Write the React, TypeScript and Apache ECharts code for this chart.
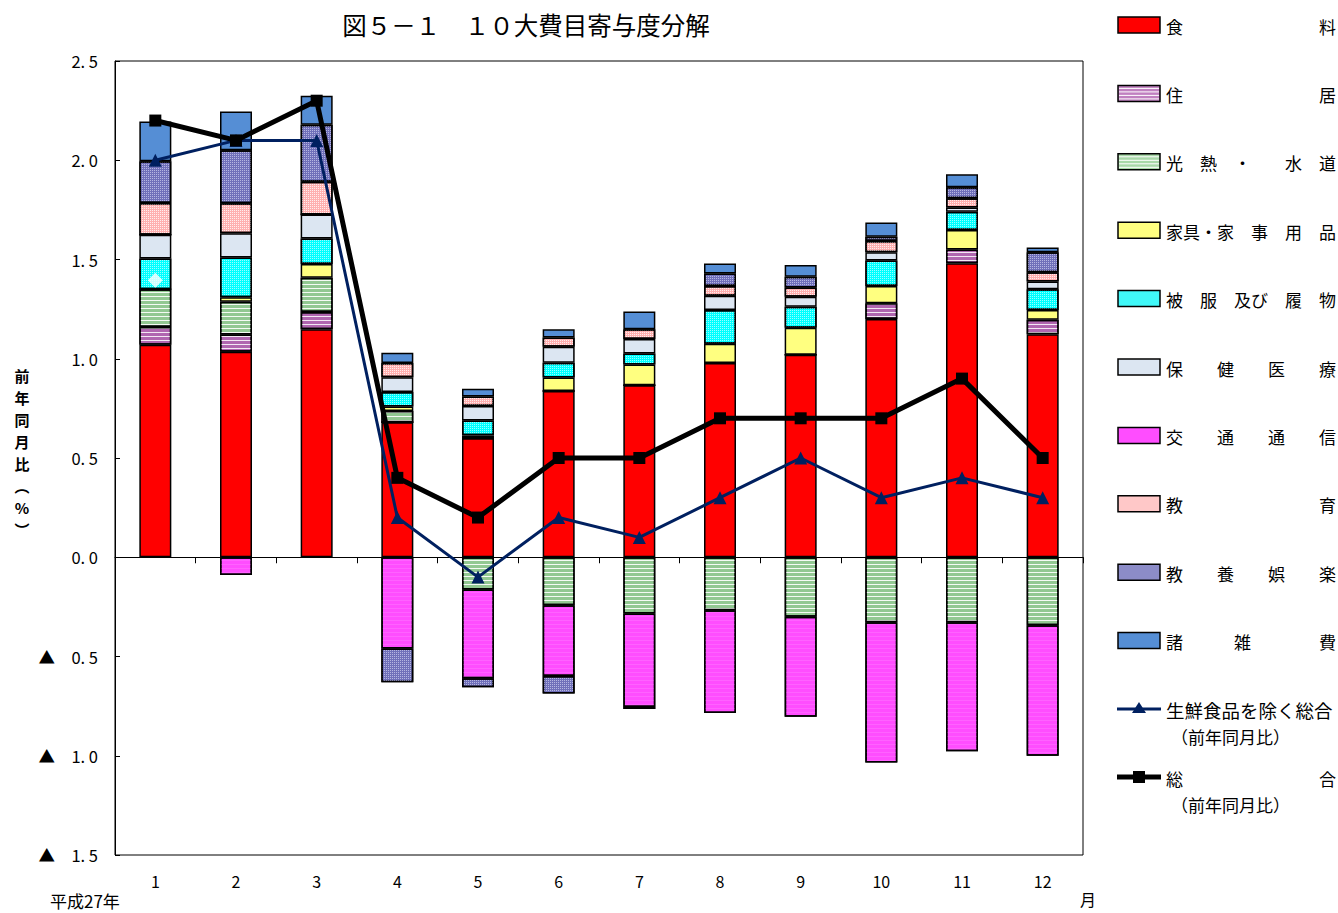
import React, { useEffect, useRef } from "react";
import * as echarts from "echarts";

// ---------- data ----------
const months = ["1", "2", "3", "4", "5", "6", "7", "8", "9", "10", "11", "12"];
const categoryNames = ["食料", "住居", "光熱・水道", "家具・家事用品", "被服及び履物", "保健医療", "交通通信", "教育", "教養娯楽", "諸雑費"];
const legendTexts = [
  "食　　　　　　　　料",
  "住　　　　　　　　居",
  "光　熱　・　　水　道",
  "家具・家　事　用　品",
  "被　服　及び　履　物",
  "保　　健　　医　　療",
  "交　　通　　通　　信",
  "教　　　　　　　　育",
  "教　　養　　娯　　楽",
  "諸　　　雑　　　　費",
];
const lineNames = ["生鮮食品を除く総合", "総合"];
const lineLegendTexts = ["生鮮食品を除く総合", "総　　　　　　　　合"];
const lineSubText = "（前年同月比）";

const food = [1.07, 1.035, 1.148, 0.68, 0.6, 0.837, 0.867, 0.979, 1.02, 1.2, 1.481, 1.124];
const housing = [0.09, 0.087, 0.088, 0, 0, 0, 0, 0, 0, 0.079, 0.069, 0.073];
const utility = [0.19, 0.165, 0.172, 0.057, -0.163, -0.242, -0.284, -0.267, -0.3, -0.328, -0.328, -0.343];
const furniture = [0, 0.023, 0.069, 0.023, 0.014, 0.069, 0.104, 0.096, 0.136, 0.088, 0.098, 0.049];
const clothing = [0.155, 0.2, 0.129, 0.073, 0.075, 0.074, 0.056, 0.17, 0.106, 0.128, 0.092, 0.104];
const health = [0.12, 0.122, 0.121, 0.074, 0.073, 0.08, 0.073, 0.072, 0.05, 0.041, 0.022, 0.039];
const transport = [0, -0.09, 0, -0.46, -0.447, -0.356, -0.47, -0.518, -0.504, -0.706, -0.649, -0.657];
const education = [0.16, 0.152, 0.165, 0.071, 0.048, 0.047, 0.048, 0.049, 0.047, 0.057, 0.047, 0.047];
const culture = [0.21, 0.266, 0.287, -0.17, -0.045, -0.089, -0.01, 0.064, 0.054, 0.022, 0.055, 0.1];
const misc = [0.2, 0.196, 0.146, 0.052, 0.039, 0.041, 0.09, 0.05, 0.059, 0.072, 0.065, 0.024];
const barValues = [food, housing, utility, furniture, clothing, health, transport, education, culture, misc];

const coreIndex = [2.0, 2.1, 2.1, 0.2, -0.1, 0.2, 0.1, 0.3, 0.5, 0.3, 0.4, 0.3];
const totalIndex = [2.2, 2.1, 2.3, 0.4, 0.2, 0.5, 0.5, 0.7, 0.7, 0.7, 0.9, 0.5];
const markerPoint = [[0, 1.396]];

const titleText = "図５－１　１０大費目寄与度分解";
const yAxisName = "前年同月比（%）";
const yearText = "平成27年";
const monthUnit = "月";

// ---------- styles ----------
const FONT = '"Noto Sans CJK JP", "Noto Sans", sans-serif';
const barBase = ["#FF0000", "#B066B0", "#92C892", "#FFFF80", "#00FFFF", "#DCE6F2", "#FF4DFF", "#FFB0B0", "#7070BA", "#558ED5"];
const swatchColors = ["#FF0000", "#C080C0", "#A8D8A8", "#FFFF80", "#40F8F8", "#DCE6F2", "#FF4DFF", "#FFC8C8", "#8C8CC8", "#558ED5"];
const stripes = (c: string) => ({ symbol: "rect", symbolSize: 1, dashArrayX: [1, 0], dashArrayY: [1, 2.2], color: c, rotation: 0 });
const dots = (c: string) => ({ symbol: "rect", symbolSize: 1, dashArrayX: [1, 1], dashArrayY: [1, 1], color: c, rotation: 0 });
const decals: any[] = [
  null,
  stripes("rgba(255,255,255,0.85)"),
  stripes("rgba(255,255,255,0.9)"),
  null,
  dots("rgba(255,255,255,0.6)"),
  null,
  stripes("rgba(255,120,255,0.5)"),
  dots("rgba(255,255,255,0.8)"),
  dots("rgba(200,200,235,0.8)"),
  null,
];

const fmt = (v: number) => {
  const s = Math.abs(v).toFixed(1).replace(".", ". ");
  return v < -1e-9 ? "▲　" + s : s;
};

export default function App() {
  const ref = useRef<HTMLDivElement>(null);
  useEffect(() => {
    document.body.style.margin = "0";
    if (!ref.current) return;
    const chart = echarts.init(ref.current, undefined, { renderer: "svg" });

    const barSeries = categoryNames.map((name, i) => ({
      name,
      type: "bar",
      stack: "total",
      barWidth: 32,
      xAxisIndex: 0,
      data: barValues[i],
      itemStyle: {
        color: barBase[i],
        borderColor: "#000",
        borderWidth: 1.5,
        ...(decals[i] ? { decal: decals[i] } : {}),
      },
      z: 2,
    }));

    const graphics: any[] = [];
    graphics.push({
      type: "text",
      x: 526,
      y: 24,
      style: { text: titleText, font: `24.5px ${FONT}`, fill: "#000", align: "center", verticalAlign: "middle" },
    });
    const nameChars = yAxisName.split("").map((c) => (c === "（" ? "︵" : c === "）" ? "︶" : c));
    nameChars.forEach((c, k) => {
      graphics.push({
        type: "text",
        x: 22,
        y: 375 + k * 22,
        style: { text: c, font: `bold 15px ${FONT}`, fill: "#000", align: "center", verticalAlign: "middle" },
      });
    });
    graphics.push({
      type: "text",
      x: 50,
      y: 900,
      style: { text: yearText, font: `17px ${FONT}`, fill: "#000", align: "left", verticalAlign: "middle" },
    });
    graphics.push({
      type: "text",
      x: 1088,
      y: 899,
      style: { text: monthUnit, font: `16px ${FONT}`, fill: "#000", align: "center", verticalAlign: "middle" },
    });

    // legend for bars
    legendTexts.forEach((t, i) => {
      const cy = 25 + i * 68.4;
      graphics.push({
        type: "rect",
        shape: { x: 1118, y: cy - 8, width: 42, height: 16 },
        style: { fill: swatchColors[i], stroke: "#000", lineWidth: 1.5 },
      });
      if (i === 1 || i === 2) {
        for (let k = 0; k < 4; k++) {
          graphics.push({
            type: "line",
            shape: { x1: 1119, y1: cy - 5 + k * 3.5, x2: 1159, y2: cy - 5 + k * 3.5 },
            style: { stroke: "#fff", lineWidth: 1 },
          });
        }
      }
      graphics.push({
        type: "text",
        x: 1166,
        y: cy + 1,
        style: { text: t, font: `17px ${FONT}`, fill: "#000", align: "left", verticalAlign: "middle" },
      });
    });

    // legend for lines
    const lineCy = [709, 777];
    lineLegendTexts.forEach((t, i) => {
      const cy = lineCy[i];
      graphics.push({
        type: "line",
        shape: { x1: 1117, y1: cy, x2: 1161, y2: cy },
        style: { stroke: i === 0 ? "#002060" : "#000", lineWidth: i === 0 ? 3 : 5 },
      });
      if (i === 0) {
        graphics.push({
          type: "polygon",
          shape: { points: [[1139, cy - 7], [1132, cy + 4], [1146, cy + 4]] },
          style: { fill: "#002060" },
        });
      } else {
        graphics.push({ type: "rect", shape: { x: 1133, y: cy - 6, width: 12, height: 12 }, style: { fill: "#000" } });
      }
      graphics.push({
        type: "text",
        x: 1166,
        y: cy + 1,
        style: { text: t, font: `${i === 0 ? 18.5 : 17}px ${FONT}`, fill: "#000", align: "left", verticalAlign: "middle" },
      });
      graphics.push({
        type: "text",
        x: 1171,
        y: cy + 27,
        style: { text: lineSubText, font: `17px ${FONT}`, fill: "#000", align: "left", verticalAlign: "middle" },
      });
    });

    chart.setOption({
      animation: false,
      backgroundColor: "#fff",
      textStyle: { fontFamily: FONT },
      grid: { left: 115, right: 255, top: 61, bottom: 58, show: true, borderColor: "#000", borderWidth: 1, backgroundColor: "transparent" },
      xAxis: [
        {
          type: "category",
          data: months,
          position: "bottom",
          axisLine: { show: false, onZero: false },
          axisTick: { show: false },
          axisLabel: { color: "#000", fontSize: 16, margin: 18, fontFamily: FONT },
        },
        {
          type: "category",
          data: months,
          position: "bottom",
          axisLine: { show: true, onZero: true, onZeroAxisIndex: 0, lineStyle: { color: "#000", width: 1 } },
          axisTick: { show: true, length: 6, lineStyle: { color: "#000" } },
          axisLabel: { show: false },
        },
      ],
      yAxis: {
        type: "value",
        min: -1.5,
        max: 2.5,
        interval: 0.5,
        axisLine: { show: true, lineStyle: { color: "#000" } },
        axisTick: { show: true, inside: true, length: 5, lineStyle: { color: "#000" } },
        splitLine: { show: false },
        axisLabel: { color: "#000", fontSize: 16.5, margin: 17, fontFamily: FONT, formatter: (v: number) => fmt(v) },
      },
      series: [
        ...barSeries,
        {
          name: "marker",
          type: "scatter",
          data: markerPoint,
          symbol: "diamond",
          symbolSize: 15,
          itemStyle: { color: "#fff" },
          z: 3,
        },
        {
          name: lineNames[0],
          type: "line",
          data: coreIndex,
          symbol: "triangle",
          symbolSize: 13,
          lineStyle: { color: "#002060", width: 3 },
          itemStyle: { color: "#002060" },
          z: 4,
        },
        {
          name: lineNames[1],
          type: "line",
          data: totalIndex,
          symbol: "rect",
          symbolSize: 12,
          lineStyle: { color: "#000", width: 5 },
          itemStyle: { color: "#000" },
          z: 5,
        },
      ],
      graphic: graphics,
    });
    return () => chart.dispose();
  }, []);
  return <div ref={ref} style={{ width: 1338, height: 913 }} />;
}
